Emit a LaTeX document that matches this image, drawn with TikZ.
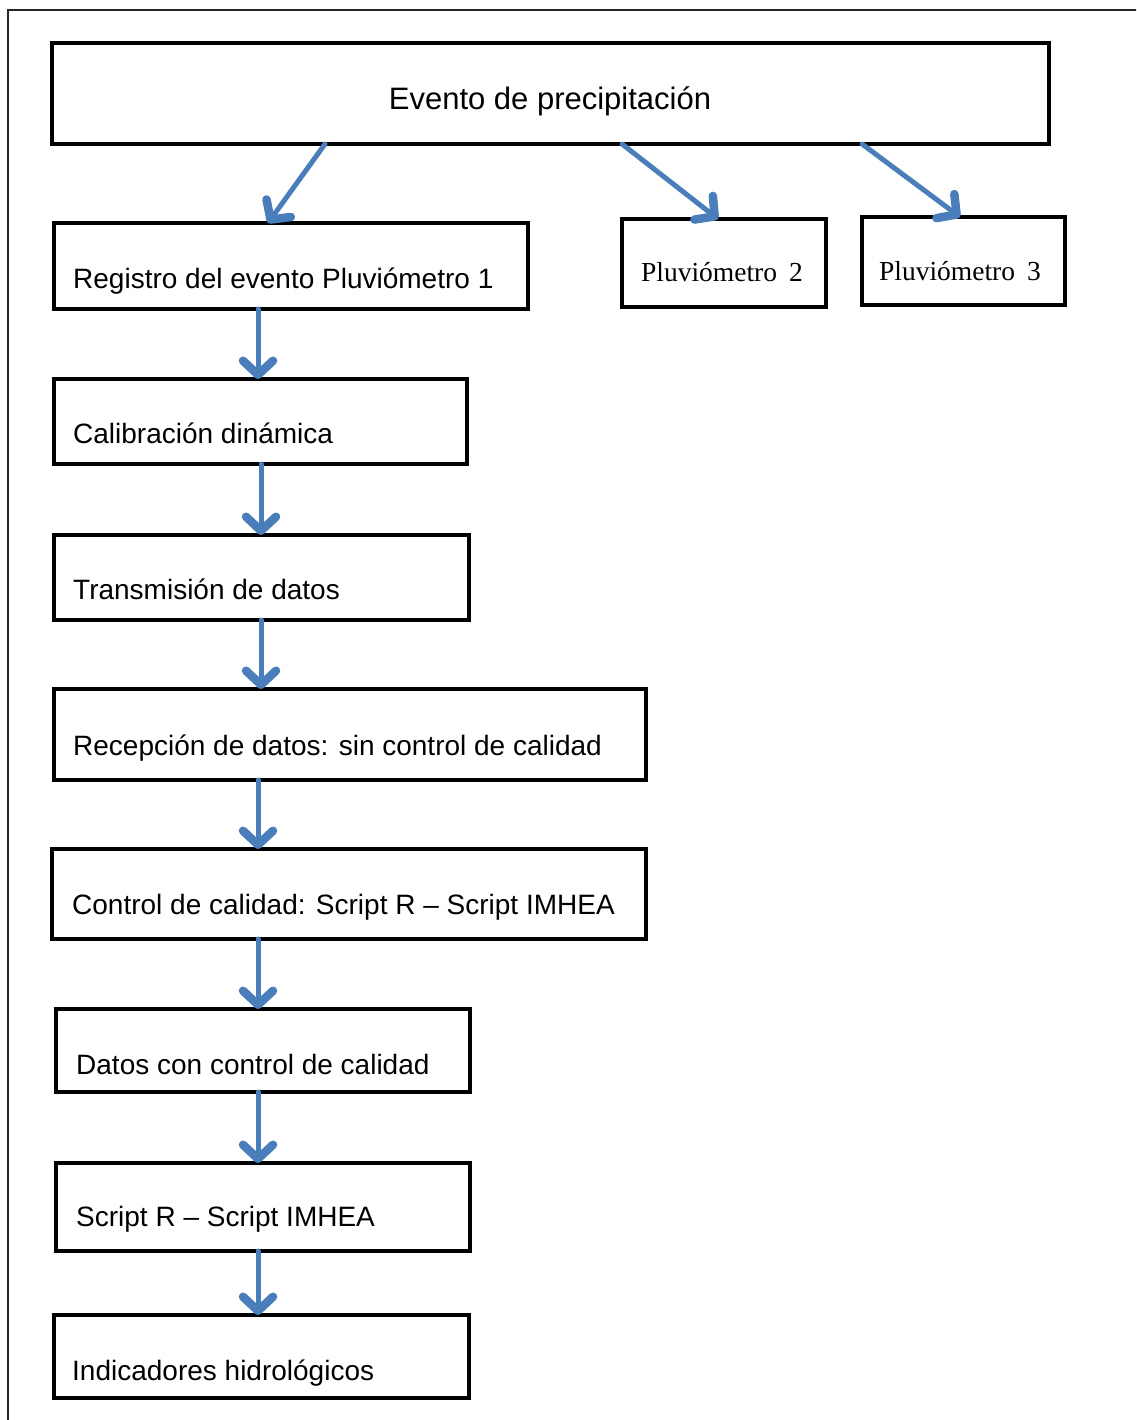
\documentclass[tikz,border=0pt]{standalone}
\usepackage{fontspec}
\setmainfont{Liberation Sans}
\newfontfamily\serifface{Liberation Serif}
\usetikzlibrary{arrows.meta}
\definecolor{flowblue}{HTML}{4A7EBB}

\begin{document}
\begin{tikzpicture}[x=1pt,y=-1pt,
  box/.style={draw=black, line width=4pt, inner sep=0pt, outer sep=0pt},
  txt/.style={inner sep=0pt, anchor=base west, font=\fontsize{28}{32}\selectfont},
  sertxt/.style={inner sep=0pt, anchor=base, font=\serifface\fontsize{27.5}{32}\selectfont},
  flow/.style={draw=flowblue, line width=5pt, line cap=round,
    -{Straight Barb[length=14pt,width=30pt,line width=0pt 1.7,round]}}]

% page area and outer frame
\useasboundingbox (0,0) rectangle (1136,1420);
\clip (0,0) rectangle (1136,1420);
\draw[line width=1.5pt, black!85] (8,10) rectangle (1170,1450);

% boxes
\node[box, minimum width=997, minimum height=101] (ev)  at (550.5,93.5) {};
\node[box, minimum width=474, minimum height=86]  (reg) at (291,266) {};
\node[box, minimum width=204, minimum height=88]  (p2)  at (724,263) {};
\node[box, minimum width=203, minimum height=88]  (p3)  at (963.5,261) {};
\node[box, minimum width=413, minimum height=85]  (cal) at (260.5,421.5) {};
\node[box, minimum width=415, minimum height=85]  (tra) at (261.5,577.5) {};
\node[box, minimum width=592, minimum height=91]  (rec) at (350,734.5) {};
\node[box, minimum width=594, minimum height=90]  (con) at (349,894) {};
\node[box, minimum width=414, minimum height=83]  (dat) at (263,1050.5) {};
\node[box, minimum width=414, minimum height=88]  (scr) at (263,1207) {};
\node[box, minimum width=415, minimum height=83]  (ind) at (261.5,1356.5) {};

% texts
\node[inner sep=0pt, anchor=base, font=\fontsize{31}{35}\selectfont] (tev) at (550,110) {Evento de precipitación};
\node[txt] (treg) at (73,289) {Registro del evento Pluviómetro 1};
\node[sertxt] (tp2) at (722,282) {Pluviómetro\hspace{12pt}2};
\node[sertxt] (tp3) at (960,280) {Pluviómetro\hspace{12pt}3};
\node[txt] (tcal) at (73,443) {Calibración dinámica};
\node[txt] (ttra) at (73,599) {Transmisión de datos};
\node[txt] (trec) at (73,755) {Recepción de datos: sin control de calidad};
\node[txt] (tcon) at (72,914) {Control de calidad: Script R -- Script IMHEA};
\node[txt] (tdat) at (76,1074) {Datos con control de calidad};
\node[txt] (tscr) at (76,1226) {Script R -- Script IMHEA};
\node[txt] (tind) at (72,1380) {Indicadores hidrológicos};

% connectors
\draw[flow] (ev.south -| 325,0) -- (reg.north -| 268,0);
\draw[flow] (ev.south -| 622,0) -- (p2.north -| 718,0);
\draw[flow] (ev.south -| 862,0) -- (p3.north -| 960,0);
\draw[flow] (reg.south -| 258,0) -- (cal.north -| 258,0);
\draw[flow] (cal.south -| 261,0) -- (tra.north -| 261,0);
\draw[flow] (tra.south -| 261,0) -- (rec.north -| 261,0);
\draw[flow] (rec.south -| 258,0) -- (con.north -| 258,0);
\draw[flow] (con.south -| 258,0) -- (dat.north -| 258,0);
\draw[flow] (dat.south -| 258,0) -- (scr.north -| 258,0);
\draw[flow] (scr.south -| 258,0) -- (ind.north -| 258,0);
\end{tikzpicture}
\end{document}
